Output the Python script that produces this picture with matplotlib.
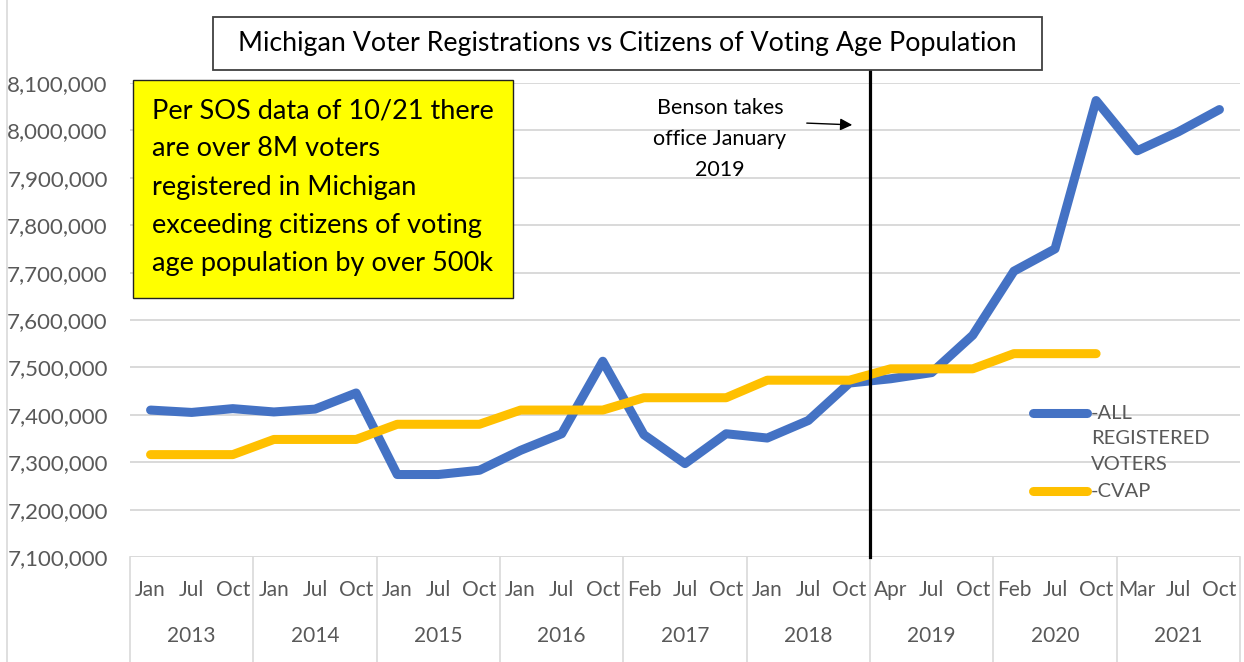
"""Michigan voter registrations vs CVAP line chart."""

import numpy as np
import matplotlib.pyplot as plt
from matplotlib.patches import Rectangle
from matplotlib.lines import Line2D
from matplotlib.ticker import FuncFormatter
from matplotlib.transforms import blended_transform_factory

plt.rcParams["font.family"] = ["Lato", "DejaVu Sans"]

MONTHS = ["Jan", "Jul", "Oct", "Jan", "Jul", "Oct", "Jan", "Jul", "Oct",
          "Jan", "Jul", "Oct", "Feb", "Jul", "Oct", "Jan", "Jul", "Oct",
          "Apr", "Jul", "Oct", "Feb", "Jul", "Oct", "Mar", "Jul", "Oct"]
YEARS = ["2013", "2014", "2015", "2016", "2017", "2018", "2019", "2020", "2021"]

# all registered voters
REGISTERED = [7410000, 7405000, 7413000, 7406000, 7412000, 7446000,
              7274000, 7274000, 7283000, 7325000, 7360000, 7513000,
              7358000, 7297000, 7360000, 7351000, 7388000, 7467000,
              7476000, 7489000, 7568000, 7703000, 7750000, 8063000,
              7957000, 7997000, 8044000]

# citizens of voting age population
CVAP = [7316000, 7316000, 7316000, 7348000, 7348000, 7348000,
        7380000, 7380000, 7380000, 7410000, 7410000, 7410000,
        7436000, 7436000, 7436000, 7473000, 7473000, 7473000,
        7497000, 7497000, 7497000, 7529000, 7529000, 7529000,
        np.nan, np.nan, np.nan]

BLUE = "#4472C4"
GOLD = "#FFC000"
GRAY = "#595959"
GRID = "#D9D9D9"

W, H = 1244, 662


def fx(px):
    return px / W


def fy(py):
    return 1 - py / H


def main() -> None:
    fig = plt.figure(figsize=(W / 100, H / 100), dpi=100)
    ax = fig.add_axes([fx(130), fy(557), fx(1240) - fx(130), fy(83) - fy(557)])

    x = np.arange(len(MONTHS))
    ax.plot(x, REGISTERED, color=BLUE, lw=6.5, solid_capstyle="round", zorder=3)
    ax.plot(x, CVAP, color=GOLD, lw=6.5, solid_capstyle="round", zorder=4)

    ax.set_xlim(-0.5, len(MONTHS) - 0.5)
    ax.set_ylim(7100000, 8100000)
    ax.set_yticks(np.arange(7100000, 8100001, 100000))
    ax.yaxis.set_major_formatter(FuncFormatter(lambda v, _: f"{v:,.0f}"))
    ax.tick_params(axis="y", length=0, pad=16, labelsize=16, labelcolor=GRAY)
    ax.set_xticks([])
    for s in ax.spines.values():
        s.set_visible(False)
    ax.grid(axis="y", color=GRID, lw=1.4)
    ax.set_axisbelow(True)

    # 多级类别轴
    trans = blended_transform_factory(ax.transData, ax.transAxes)
    for i, m in enumerate(MONTHS):
        ax.text(i, -0.0696, m, transform=trans, ha="center", va="center",
                fontsize=15, color=GRAY)
    for k, yr in enumerate(YEARS):
        ax.text(3 * k + 1, -0.1667, yr, transform=trans, ha="center", va="center",
                fontsize=15, color=GRAY)
    for b in np.arange(-0.5, len(MONTHS), 3):
        ax.add_line(Line2D([b, b], [0, -0.23], transform=trans, color=GRID,
                           lw=1.2, clip_on=False))

    # Benson 竖线
    ax.add_line(Line2D([17.5, 17.5], [0, 1.027], transform=trans, color="black",
                       lw=2.3, clip_on=False, zorder=5))
    ax.annotate("", xy=(fx(855), fy(125)), xytext=(fx(804), fy(123)),
                xycoords="figure fraction", textcoords="figure fraction",
                arrowprops=dict(arrowstyle="-|>", color="black", lw=1.0,
                                mutation_scale=18))
    fig.text(fx(720), fy(139), "Benson takes\noffice January\n2019", ha="center",
             va="center", fontsize=15.5, linespacing=1.7)

    # 标题框
    fig.add_artist(Rectangle((fx(213), fy(70)), fx(1042) - fx(213), fy(17) - fy(70),
                             transform=fig.transFigure, facecolor="white",
                             edgecolor="#404040", lw=1.3))
    fig.text(fx(627), fy(44), "Michigan Voter Registrations vs Citizens of Voting Age Population",
             ha="center", va="center", fontsize=19.3)

    # 黄色注释框
    fig.add_artist(Rectangle((fx(133), fy(298)), fx(513) - fx(133), fy(80) - fy(298),
                             transform=fig.transFigure, facecolor="#FFFF00",
                             edgecolor="#222222", lw=1.0, zorder=6))
    fig.text(fx(152), fy(187),
             "Per SOS data of 10/21 there\nare over 8M voters\nregistered in Michigan\n"
             "exceeding citizens of voting\nage population by over 500k",
             ha="left", va="center", fontsize=19.5, linespacing=1.65, zorder=7)

    # 图例
    for (y0, col, lab) in [(413, BLUE, "-ALL\nREGISTERED\nVOTERS"), (491, GOLD, "-CVAP")]:
        fig.add_artist(Line2D([fx(1033), fx(1087)], [fy(y0), fy(y0)], color=col, lw=6.5,
                              solid_capstyle="round"))
        fig.text(fx(1091), fy(y0 - 8), lab, ha="left", va="top", fontsize=14.5,
                 color=GRAY, linespacing=1.6)

    # 图表区左边框
    fig.add_artist(Line2D([fx(7), fx(7)], [0, 1], color=GRID, lw=1.2))

    fig.savefig("out.png", dpi=100)


if __name__ == "__main__":
    main()
